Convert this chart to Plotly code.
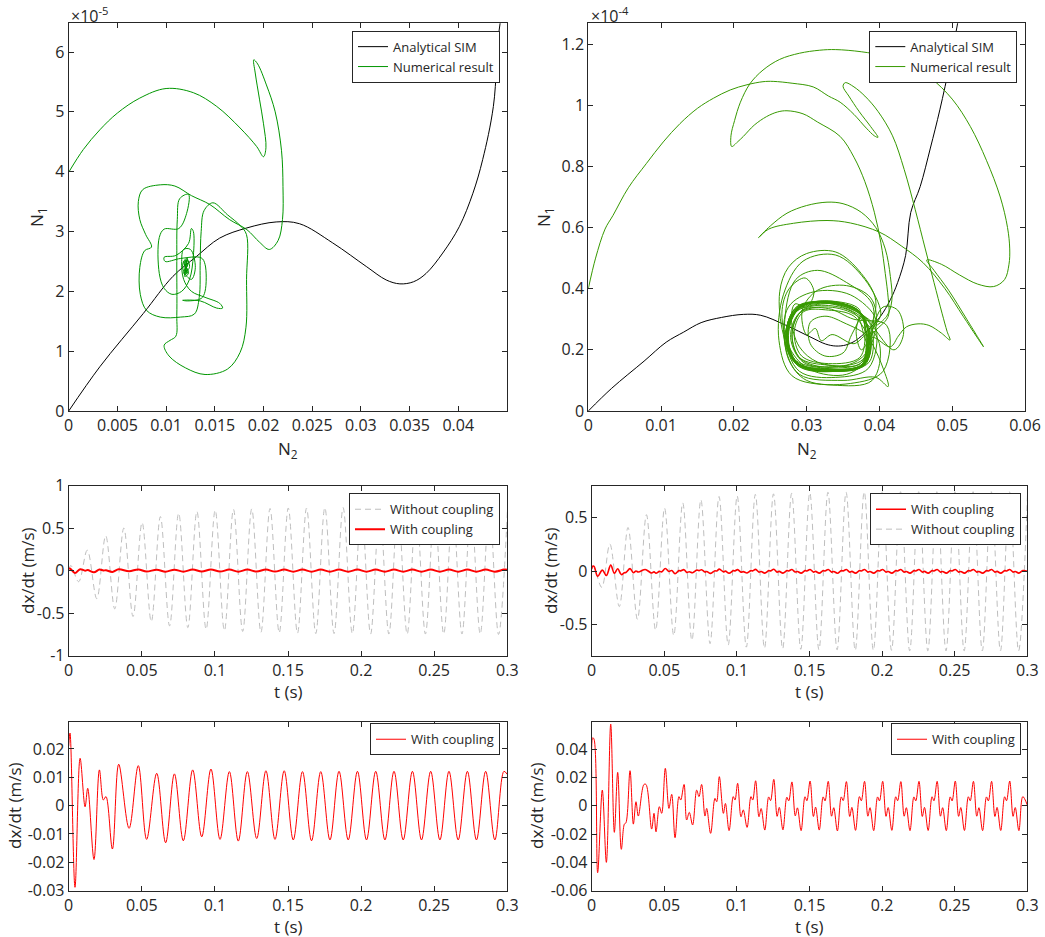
import plotly.graph_objects as go

FONT = "Open Sans"
TXT = "#262626"
W, H = 1045, 937

# ---------------- data ----------------
# Analytical SIM: N2 (x1e-3), N1 (x1e-5)
sim_n2 = [0, 3.2, 7.66, 10.7, 13.1, 15.5, 18.3, 21.3, 23.7, 27.1, 30.6, 32.6, 34.0, 35.4,
          36.7, 38.4, 40.1, 41.5, 42.5, 43.6, 44.3, 45.6, 47.0, 48.3, 49.7, 50.75]
sim_n1 = [0, 0.74, 1.63, 2.25, 2.58, 2.89, 3.06, 3.16, 3.13, 2.81, 2.41, 2.19, 2.125, 2.16,
          2.30, 2.64, 3.08, 3.64, 4.2, 5.09, 6.49, 7.34, 8.6, 9.85, 11.38, 12.69]

# Numerical result, left panel: (N2 x1e-3, N1 x1e-5)
num_left = [
    (0.0, 3.99), (1.5, 4.37), (3.2, 4.70), (5.0, 4.98), (7.3, 5.23), (10.0, 5.39), (12.8, 5.32),
    (15.2, 5.09), (17.6, 4.73), (19.3, 4.42), (20.0, 4.25), (20.25, 4.40), (20.0, 4.8), (19.6, 5.2),
    (19.15, 5.65), (19.0, 5.87), (19.4, 5.80), (20.3, 5.45), (21.2, 5.0), (21.85, 4.35), (22.0, 3.75),
    (21.95, 3.2), (21.5, 2.85), (20.6, 2.70), (19.6, 2.82), (18.3, 3.03), (16.5, 3.2), (14.5, 3.45),
    (12.6, 3.6), (10.9, 3.76), (9.4, 3.78), (7.6, 3.7), (7.15, 3.5), (7.3, 3.2), (7.9, 2.95),
    (8.5, 2.74), (7.8, 2.68), (7.3, 2.4), (7.35, 1.95), (8.0, 1.68), (9.4, 1.57), (11.5, 1.57),
    (12.9, 1.62), (13.4, 1.9), (13.5, 2.5), (13.6, 3.0), (13.9, 3.35), (14.8, 3.48), (16.3, 3.28),
    (17.6, 3.1), (18.25, 2.95), (18.26, 2.2), (18.2, 1.4), (17.6, 0.98), (16.3, 0.7), (14.0, 0.61),
    (12.0, 0.72), (10.3, 0.92), (9.8, 1.1), (10.4, 1.18), (11.0, 1.25), (11.1, 1.6), (11.1, 2.5),
    (11.15, 3.2), (11.4, 3.55), (12.3, 3.62), (12.1, 3.3), (11.3, 3.05), (9.8, 3.04), (9.3, 2.9),
    (9.3, 2.3), (9.8, 2.05), (10.6, 1.95), (11.6, 2.0), (12.4, 2.2), (12.8, 2.6), (12.8, 3.0),
    (12.6, 3.05), (12.3, 2.8), (11.0, 2.6), (9.8, 2.57), (9.9, 2.5), (11.5, 2.55), (13.6, 2.56),
    (14.0, 2.45), (14.0, 2.0), (13.6, 1.88), (12.2, 1.84), (11.7, 1.85), (13.5, 1.84), (15.2, 1.72),
    (15.8, 1.72), (15.5, 1.80), (14.0, 1.9), (12.6, 2.0), (11.8, 2.2), (11.6, 2.5), (11.8, 2.7),
    (12.5, 2.7), (13.0, 2.4), (12.6, 2.2), (11.9, 2.3), (11.7, 2.45), (12.1, 2.55), (12.4, 2.4),
    (11.8, 2.3), (12.3, 2.5), (11.8, 2.5), (12.3, 2.3), (11.9, 2.25), (12.2, 2.55), (11.85, 2.45),
    (12.25, 2.35), (12.0, 2.28), (12.1, 2.52), (11.9, 2.35), (12.2, 2.45), (11.95, 2.5), (12.15, 2.3),
    (12.0, 2.4),
]

# Numerical result, right panel: (N2 x1e-3, N1 x1e-5)
num_right = [
    # first arc and hook
    (0.0, 4.0), (1.0, 5.0), (2.3, 5.95), (3.4, 6.4), (5.5, 7.3), (8.0, 8.1), (10.3, 8.8), (12.6, 9.4),
    (15.0, 9.9), (17.2, 10.23), (19.5, 10.5), (21.8, 10.67), (24.0, 10.77), (25.4, 10.78), (28.0, 10.72),
    (30.9, 10.6), (33.0, 10.3), (34.6, 10.1), (36.5, 9.7), (38.2, 9.25), (39.3, 9.0), (39.8, 8.95),
    (38.8, 9.3), (37.2, 9.8), (35.8, 10.3), (35.0, 10.62), (35.3, 10.74), (36.5, 10.6), (38.0, 10.3),
    (39.8, 9.8), (41.8, 9.0), (43.4, 7.9), (44.9, 6.6), (46.3, 5.3), (47.5, 4.2), (48.6, 3.2),
    (49.3, 2.6), (49.7, 2.32), (48.5, 2.55), (46.8, 2.8), (45.3, 2.85), (43.7, 2.75), (42.6, 2.45),
    (41.5, 2.1),
    # cluster loops
    (39.0, 2.4), (38.0, 1.55), (33.5, 1.3), (28.8, 1.55), (27.4, 2.45), (28.9, 3.35), (33.0, 3.6), (37.5, 3.2),
    (38.6, 2.3), (37.6, 1.5), (33.0, 1.35), (28.5, 1.6), (27.2, 2.55), (28.6, 3.4), (32.5, 3.55), (37.0, 3.3),
    (38.3, 2.2), (37.3, 1.45), (32.5, 1.4), (28.3, 1.7), (27.5, 2.7), (29.2, 3.45), (33.5, 3.5), (37.6, 3.05),
    (38.8, 2.5), (38.2, 1.6), (34.0, 1.3), (29.0, 1.45), (27.0, 2.3), (28.3, 3.2), (32.0, 3.5), (36.8, 3.35),
    (38.5, 2.6), (37.8, 1.7), (33.5, 1.45), (29.5, 1.6), (27.8, 2.4), (29.0, 3.2), (33.0, 3.4), (37.0, 3.1),
    (40.0, 2.2), (39.0, 1.0), (33.5, 0.85), (28.0, 1.15), (26.2, 2.3), (26.8, 3.8), (29.5, 4.9), (34.0, 5.1),
    (38.0, 4.3), (40.2, 3.2),
    # exit and middle arc
    (39.5, 2.8), (41.0, 3.1), (41.7, 3.6), (41.5, 4.4), (40.8, 5.3), (39.5, 6.0), (37.5, 6.5), (35.0, 6.78),
    (32.8, 6.83), (30.0, 6.72), (27.3, 6.47), (25.0, 6.05), (23.4, 5.67), (24.8, 5.95), (28.2, 6.14),
    (32.8, 6.23), (36.0, 6.15), (40.0, 5.85), (43.0, 5.4), (46.0, 4.85), (49.0, 4.0), (51.5, 3.1),
    (53.3, 2.45), (54.3, 2.1), (52.0, 3.0), (49.5, 3.95), (47.5, 4.6), (46.5, 4.94), (48.5, 4.8),
    (51.0, 4.45), (53.5, 4.15), (55.7, 4.07), (57.2, 4.3), (57.8, 4.8), (57.9, 5.3),
    # outer arc
    (57.6, 6.0), (56.6, 7.0), (54.7, 8.2), (52.5, 9.3), (50.0, 10.2), (47.0, 10.9), (44.0, 11.35),
    (41.0, 11.6), (37.5, 11.75), (34.0, 11.82), (31.8, 11.8), (29.0, 11.7), (26.3, 11.5), (24.0, 11.15),
    (22.2, 10.7), (20.9, 10.1), (20.1, 9.5), (19.6, 9.0), (19.7, 8.65),
    # inner arc back into cluster
    (20.5, 8.8), (21.3, 8.98), (22.8, 9.35), (24.5, 9.63), (26.0, 9.78), (27.3, 9.82), (29.5, 9.72),
    (31.5, 9.45), (34.6, 8.98), (36.5, 8.3), (38.0, 7.5), (39.3, 6.5), (40.2, 5.5), (40.8, 4.5),
    (41.2, 3.7), (41.3, 3.2), (41.0, 3.0),
    # more cluster loops
    (38.7, 2.4), (37.9, 1.5), (33.2, 1.33), (28.6, 1.55), (27.3, 2.5), (28.8, 3.38), (32.8, 3.57), (37.2, 3.25),
    (38.2, 2.3), (37.4, 1.55), (33.0, 1.5), (29.0, 1.75), (28.0, 2.6), (29.5, 3.3), (33.0, 3.35), (36.5, 3.0),
    (41.0, 2.8), (40.5, 1.3), (36.0, 0.9), (30.0, 1.0), (27.5, 1.7), (27.0, 3.0), (28.5, 4.3), (31.5, 4.6),
    (35.5, 4.2), (39.0, 3.5),
    (38.9, 2.45), (38.0, 1.5), (33.4, 1.3), (28.7, 1.5), (27.1, 2.4), (28.5, 3.35), (32.7, 3.6), (37.3, 3.3),
    (36.0, 2.4), (35.0, 1.9), (32.5, 1.8), (30.5, 2.2), (30.5, 2.9), (32.5, 3.1), (35.0, 2.9),
    (38.6, 2.35), (37.7, 1.5), (33.1, 1.38), (28.6, 1.6), (27.3, 2.5), (28.8, 3.35), (32.8, 3.55), (37.2, 3.2),
    (39.5, 2.7), (38.5, 1.4), (34.0, 1.1), (29.0, 1.3), (26.8, 2.5), (26.3, 3.9), (27.5, 4.7), (30.0, 5.15),
    (34.0, 5.2), (37.5, 4.5), (39.5, 3.6),
    (38.4, 2.4), (37.5, 1.45), (32.8, 1.33), (28.4, 1.62), (27.2, 2.6), (28.7, 3.42), (32.6, 3.58), (37.0, 3.28),
    (38.8, 2.3), (38.0, 1.55), (33.6, 1.35), (29.0, 1.5), (27.5, 2.35), (28.8, 3.3), (33.0, 3.52), (37.4, 3.15),
    (38.0, 2.6), (37.3, 1.75), (33.0, 1.55), (29.3, 1.8), (28.3, 2.6), (29.6, 3.25), (33.0, 3.3), (36.5, 3.1),
    (39.0, 2.2), (40.5, 1.4), (41.2, 0.8), (39.5, 1.1), (35.0, 1.0), (29.0, 1.2), (27.0, 2.2), (27.5, 3.4),
    (31.0, 3.9), (36.0, 3.8), (39.5, 3.0),
    (38.6, 2.45), (37.7, 1.5), (33.0, 1.35), (28.5, 1.58), (27.2, 2.5), (28.7, 3.37), (32.8, 3.56), (37.2, 3.23),
    (38.5, 2.4), (37.5, 2.0), (36.8, 2.6), (37.5, 3.1), (38.8, 2.8), (38.6, 1.6), (34.0, 1.3), (29.0, 1.5),
    (27.4, 2.4), (28.9, 3.35), (33.0, 3.55), (37.4, 3.2),
    (42.0, 2.0), (43.3, 2.5), (42.5, 3.3), (40.5, 3.4), (38.7, 2.35), (37.8, 1.5), (33.2, 1.3), (28.7, 1.55),
    (27.3, 2.45), (28.8, 3.35), (32.9, 3.58), (37.3, 3.25), (38.4, 2.6), (37.6, 1.6), (33.2, 1.42),
    (29.2, 1.7), (28.0, 2.5), (29.4, 3.3), (33.0, 3.45), (36.8, 3.15), (37.9, 2.45),
    (38.6, 1.8), (35.5, 1.2), (30.5, 1.35), (27.8, 2.0), (26.6, 3.2), (27.6, 4.0), (29.8, 4.35),
    (31.0, 3.9), (30.0, 3.4), (28.4, 3.5), (27.9, 3.0), (29.0, 2.1), (31.5, 1.6), (35.5, 1.5), (38.2, 1.9),
    (39.6, 2.9), (38.8, 3.7), (35.5, 4.1), (31.5, 3.95), (29.4, 3.3), (30.0, 2.5), (31.2, 2.7), (32.0, 2.3),
    (33.5, 2.5), (36.5, 2.2), (38.3, 2.5), (37.7, 1.55), (33.3, 1.36), (28.7, 1.58), (27.3, 2.5),
    (28.8, 3.36), (32.8, 3.56), (37.3, 3.22), (38.6, 2.4),
]

# Time-series extrema: (t [s], dx/dt [m/s])
gray_left = [
    (0.0, 0.02), (0.0015, 0.06), (0.0068, -0.13), (0.0127, 0.24), (0.0192, -0.33), (0.0253, 0.41),
    (0.0315, -0.45), (0.0377, 0.50), (0.0440, -0.54), (0.0502, 0.565), (0.0565, -0.60), (0.0627, 0.635),
    (0.0690, -0.65), (0.0752, 0.675), (0.0815, -0.67), (0.0877, 0.695), (0.0940, -0.69), (0.1002, 0.71),
    (0.1065, -0.705), (0.1127, 0.72), (0.1190, -0.715), (0.1252, 0.725), (0.1315, -0.725), (0.1377, 0.73),
    (0.1440, -0.73), (0.1502, 0.735), (0.1565, -0.735), (0.1627, 0.735), (0.1690, -0.74), (0.1752, 0.74),
    (0.1815, -0.74), (0.1877, 0.74), (0.1940, -0.74), (0.2002, 0.74), (0.2065, -0.745), (0.2127, 0.74),
    (0.2190, -0.745), (0.2252, 0.745), (0.2315, -0.745), (0.2377, 0.745), (0.2440, -0.745), (0.2502, 0.745),
    (0.2565, -0.745), (0.2627, 0.745), (0.2690, -0.745), (0.2752, 0.745), (0.2815, -0.745), (0.2877, 0.745),
    (0.2940, -0.75), (0.3002, 0.745),
]
gray_right = [
    (0.0, 0.035), (0.0012, 0.05), (0.0069, -0.15), (0.0125, 0.255), (0.0190, -0.33), (0.0250, 0.41),
    (0.0315, -0.45), (0.0377, 0.53), (0.0440, -0.55), (0.0502, 0.59), (0.0565, -0.60), (0.0627, 0.64),
    (0.0690, -0.646), (0.0752, 0.67), (0.0815, -0.677), (0.0877, 0.70), (0.0940, -0.69), (0.1002, 0.705),
    (0.1065, -0.71), (0.1127, 0.72), (0.1190, -0.72), (0.1252, 0.725), (0.1315, -0.725), (0.1377, 0.73),
    (0.1440, -0.73), (0.1502, 0.735), (0.1565, -0.735), (0.1627, 0.74), (0.1690, -0.735), (0.1752, 0.74),
    (0.1815, -0.74), (0.1877, 0.745), (0.1940, -0.74), (0.2002, 0.745), (0.2065, -0.74), (0.2127, 0.745),
    (0.2190, -0.745), (0.2252, 0.745), (0.2315, -0.745), (0.2377, 0.745), (0.2440, -0.745), (0.2502, 0.745),
    (0.2565, -0.745), (0.2627, 0.745), (0.2690, -0.745), (0.2752, 0.745), (0.2815, -0.745), (0.2877, 0.745),
    (0.2940, -0.745), (0.3002, 0.745),
]
red_left = [
    (0.0, 0.021), (0.0009, 0.0256), (0.0043, -0.0288), (0.0078, 0.0167), (0.0112, -0.0004), (0.0130, 0.0061),
    (0.0173, -0.0190), (0.0210, 0.0126), (0.0237, 0.0020), (0.0255, 0.0032), (0.0299, -0.0153),
    (0.0342, 0.0146), (0.0413, -0.0080), (0.0476, 0.0141), (0.0533, -0.0119), (0.0602, 0.0114),
    (0.0663, -0.0131), (0.0723, 0.0112), (0.0784, -0.0124), (0.0848, 0.0126), (0.0910, -0.0110),
    (0.0973, 0.0129), (0.1035, -0.0119), (0.1099, 0.0120), (0.1160, -0.0125), (0.1222, 0.0120),
    (0.1286, -0.0116), (0.1349, 0.0123), (0.1411, -0.0119), (0.1474, 0.0123), (0.1536, -0.0121),
    (0.1599, 0.0120), (0.1661, -0.0124), (0.1724, 0.0120), (0.1787, -0.0121), (0.1849, 0.0121),
    (0.1912, -0.0121), (0.1975, 0.0121), (0.2037, -0.0121), (0.2100, 0.0121), (0.2163, -0.0121),
    (0.2225, 0.0121), (0.2288, -0.0121), (0.2351, 0.0121), (0.2413, -0.0121), (0.2476, 0.0121),
    (0.2539, -0.0121), (0.2601, 0.0121), (0.2664, -0.0121), (0.2727, 0.0121), (0.2789, -0.0121),
    (0.2852, 0.0121), (0.2915, -0.0121), (0.2977, 0.0121), (0.3000, 0.0110),
]
red_right = [
    (0.0, 0.020), (0.0007, 0.048), (0.0016, 0.047), (0.0041, -0.0473), (0.0073, 0.011), (0.0101, -0.040),
    (0.0131, 0.0576), (0.0156, -0.0188), (0.0179, 0.0235), (0.0204, -0.0308), (0.0225, -0.013),
    (0.0236, -0.012), (0.0264, 0.0247), (0.0287, -0.013), (0.0305, 0.0028), (0.0321, -0.0073),
    (0.0360, 0.015), (0.0374, 0.015), (0.0413, -0.0165), (0.0429, -0.0054), (0.0443, -0.0184),
    (0.0466, -0.0007), (0.0482, -0.0054), (0.0507, 0.0264), (0.0532, -0.0019), (0.0551, 0.008),
    (0.0574, -0.0226), (0.0601, 0.0064), (0.0613, 0.004), (0.0636, 0.015), (0.0654, -0.0101),
    (0.0672, -0.0047), (0.0695, -0.0136), (0.0723, 0.011), (0.0739, 0.0064), (0.0757, 0.015),
    (0.0780, -0.0073), (0.0792, -0.0019), (0.0819, -0.0195), (0.0849, 0.0052), (0.0861, 0.0028),
    (0.0879, 0.0205), (0.0907, -0.0054), (0.0921, 0.0016), (0.0946, -0.0176), (0.0975, 0.0064),
    (0.0987, 0.004), (0.1005, 0.0158), (0.1028, -0.0078), (0.1044, -0.003), (0.1070, -0.0153),
    (0.1097, 0.0064), (0.1109, 0.004),
    (0.1129, 0.0176), (0.1152, -0.0078), (0.1167, -0.0020), (0.1192, -0.0172), (0.1219, 0.0062), (0.1232, 0.0036),
    (0.1254, 0.0186), (0.1277, -0.0075), (0.1292, -0.0012), (0.1317, -0.0170), (0.1344, 0.0060), (0.1357, 0.0034),
    (0.1379, 0.0168), (0.1402, -0.0072), (0.1417, -0.0015), (0.1442, -0.0176), (0.1469, 0.0063), (0.1482, 0.0035),
    (0.1504, 0.0174), (0.1527, -0.0076), (0.1542, -0.0010), (0.1567, -0.0172), (0.1594, 0.0062), (0.1607, 0.0034),
    (0.1629, 0.0172), (0.1652, -0.0074), (0.1667, -0.0014), (0.1692, -0.0178), (0.1719, 0.0062), (0.1732, 0.0036),
    (0.1754, 0.0170), (0.1777, -0.0076), (0.1792, -0.0012), (0.1817, -0.0174), (0.1844, 0.0064), (0.1857, 0.0035),
    (0.1879, 0.0172), (0.1902, -0.0074), (0.1917, -0.0014), (0.1942, -0.0176), (0.1969, 0.0062), (0.1982, 0.0034),
    (0.2004, 0.0172), (0.2027, -0.0075), (0.2042, -0.0013), (0.2067, -0.0174), (0.2094, 0.0063), (0.2107, 0.0035),
    (0.2129, 0.0170), (0.2152, -0.0074), (0.2167, -0.0014), (0.2192, -0.0176), (0.2219, 0.0062), (0.2232, 0.0034),
    (0.2254, 0.0172), (0.2277, -0.0076), (0.2292, -0.0012), (0.2317, -0.0175), (0.2344, 0.0063), (0.2357, 0.0035),
    (0.2379, 0.0172), (0.2402, -0.0074), (0.2417, -0.0014), (0.2442, -0.0176), (0.2469, 0.0062), (0.2482, 0.0034),
    (0.2504, 0.0174), (0.2527, -0.0075), (0.2542, -0.0013), (0.2567, -0.0175), (0.2594, 0.0063), (0.2607, 0.0035),
    (0.2629, 0.0172), (0.2652, -0.0074), (0.2667, -0.0014), (0.2692, -0.0176), (0.2719, 0.0062), (0.2732, 0.0034),
    (0.2754, 0.0172), (0.2777, -0.0076), (0.2792, -0.0012), (0.2817, -0.0175), (0.2844, 0.0063), (0.2857, 0.0035),
    (0.2879, 0.0174), (0.2902, -0.0075), (0.2917, -0.0013), (0.2942, -0.0176), (0.2969, 0.0064), (0.3000, 0.0005),
]

# tick labels
tl_xticks = [0, 0.005, 0.01, 0.015, 0.02, 0.025, 0.03, 0.035, 0.04]
tl_xlabels = ["0", "0.005", "0.01", "0.015", "0.02", "0.025", "0.03", "0.035", "0.04"]
tr_xticks = [0, 0.01, 0.02, 0.03, 0.04, 0.05, 0.06]
tr_xlabels = ["0", "0.01", "0.02", "0.03", "0.04", "0.05", "0.06"]
t_ticks = [0, 0.05, 0.1, 0.15, 0.2, 0.25, 0.3]
t_labels = ["0", "0.05", "0.1", "0.15", "0.2", "0.25", "0.3"]
ml_yticks = [-1, -0.5, 0, 0.5, 1]
ml_ylabels = ["-1", "-0.5", "0", "0.5", "1"]
mr_yticks = [-0.5, 0, 0.5]
mr_ylabels = ["-0.5", "0", "0.5"]
bl_yticks = [-0.03, -0.02, -0.01, 0, 0.01, 0.02]
bl_ylabels = ["-0.03", "-0.02", "-0.01", "0", "0.01", "0.02"]
br_yticks = [-0.06, -0.04, -0.02, 0, 0.02, 0.04]
br_ylabels = ["-0.06", "-0.04", "-0.02", "0", "0.02", "0.04"]

# ---------------- figure ----------------
GREEN_L = "rgb(0,150,0)"
GREEN_R = "rgb(55,153,0)"
RED = "rgb(255,0,0)"
GRAY = "rgb(190,190,190)"


def split(pairs):
    return [p[0] for p in pairs], [p[1] for p in pairs]


fig = go.Figure()

# top-left
fig.add_trace(go.Scatter(x=[v / 1000 for v in sim_n2], y=sim_n1, mode="lines", name="Analytical SIM",
                         line=dict(color="black", width=1, shape="spline"), xaxis="x", yaxis="y",
                         legend="legend"))
lx, ly = split(num_left)
fig.add_trace(go.Scatter(x=[v / 1000 for v in lx], y=ly, mode="lines", name="Numerical result",
                         line=dict(color=GREEN_L, width=1, shape="spline"), xaxis="x", yaxis="y",
                         legend="legend"))
# top-right
fig.add_trace(go.Scatter(x=[v / 1000 for v in sim_n2], y=[v / 10 for v in sim_n1], mode="lines",
                         name="Analytical SIM", line=dict(color="black", width=1, shape="spline"),
                         xaxis="x2", yaxis="y2", legend="legend2"))
rx, ry = split(num_right)
fig.add_trace(go.Scatter(x=[v / 1000 for v in rx], y=[v / 10 for v in ry], mode="lines",
                         name="Numerical result", line=dict(color=GREEN_R, width=1, shape="spline"),
                         xaxis="x2", yaxis="y2", legend="legend2"))
# middle-left
gx, gy = split(gray_left)
fig.add_trace(go.Scatter(x=gx, y=gy, mode="lines", name="Without coupling",
                         line=dict(color=GRAY, width=1, dash="6px,4px", shape="spline"),
                         xaxis="x3", yaxis="y3", legend="legend3"))
rlx, rly = split(red_left)
fig.add_trace(go.Scatter(x=rlx, y=rly, mode="lines", name="With coupling",
                         line=dict(color=RED, width=2, shape="spline"), xaxis="x3", yaxis="y3",
                         legend="legend3"))
# middle-right
gx2, gy2 = split(gray_right)
fig.add_trace(go.Scatter(x=gx2, y=gy2, mode="lines", name="Without coupling",
                         line=dict(color=GRAY, width=1, dash="6px,4px", shape="spline"),
                         xaxis="x4", yaxis="y4", legend="legend4"))
rrx, rry = split(red_right)
fig.add_trace(go.Scatter(x=rrx, y=rry, mode="lines", name="With coupling",
                         line=dict(color=RED, width=1.6, shape="spline"), xaxis="x4", yaxis="y4",
                         legend="legend4"))
# bottom
fig.add_trace(go.Scatter(x=rlx, y=rly, mode="lines", name="With coupling",
                         line=dict(color=RED, width=1, shape="spline"), xaxis="x5", yaxis="y5",
                         legend="legend5"))
fig.add_trace(go.Scatter(x=rrx, y=rry, mode="lines", name="With coupling",
                         line=dict(color=RED, width=1, shape="spline"), xaxis="x6", yaxis="y6",
                         legend="legend6"))


def ax(domain, rng, anchor, tickvals=None, ticktext=None, dtick=None):
    d = dict(domain=domain, range=rng, anchor=anchor, showline=True, linecolor=TXT, linewidth=1,
             mirror="ticks", ticks="inside", ticklen=5, tickwidth=1, tickcolor=TXT, showgrid=False,
             zeroline=False, automargin=False, fixedrange=True,
             tickfont=dict(family=FONT, size=16, color=TXT))
    if tickvals is not None:
        d["tickmode"] = "array"
        d["tickvals"] = tickvals
        d["ticktext"] = ticktext
    elif dtick is not None:
        d["dtick"] = dtick
        d["tick0"] = 0
    return d


def px_x(p):
    return p / W


def px_y(p):
    return 1 - p / H


dom_tl_x = [px_x(68.7), px_x(507.0)]
dom_tr_x = [px_x(588.3), px_x(1025.0)]
dom_top_y = [px_y(411.0), px_y(23.3)]
dom_ml_x = [px_x(68.7), px_x(507.3)]
dom_mr_x = [px_x(591.7), px_x(1027.3)]
dom_mid_y = [px_y(655.7), px_y(485.5)]
dom_bot_y = [px_y(890.7), px_y(721.7)]

fig.update_layout(
    width=W, height=H, margin=dict(l=0, r=0, t=0, b=0),
    paper_bgcolor="white", plot_bgcolor="white",
    font=dict(family=FONT, color=TXT),
    xaxis=ax(dom_tl_x, [0, 0.045], "y", tl_xticks, tl_xlabels),
    yaxis=ax(dom_top_y, [0, 6.48], "x", dtick=1),
    xaxis2=ax(dom_tr_x, [0, 0.06], "y2", tr_xticks, tr_xlabels),
    yaxis2=ax(dom_top_y, [0, 1.268], "x2", dtick=0.2),
    xaxis3=ax(dom_ml_x, [0, 0.3], "y3", t_ticks, t_labels),
    yaxis3=ax(dom_mid_y, [-1, 1], "x3", ml_yticks, ml_ylabels),
    xaxis4=ax(dom_mr_x, [0, 0.3], "y4", t_ticks, t_labels),
    yaxis4=ax(dom_mid_y, [-0.79, 0.803], "x4", mr_yticks, mr_ylabels),
    xaxis5=ax(dom_ml_x, [0, 0.3], "y5", t_ticks, t_labels),
    yaxis5=ax(dom_bot_y, [-0.03, 0.0296], "x5", bl_yticks, bl_ylabels),
    xaxis6=ax(dom_mr_x, [0, 0.3], "y6", t_ticks, t_labels),
    yaxis6=ax(dom_bot_y, [-0.06, 0.0593], "x6", br_yticks, br_ylabels),
)

leg_common = dict(xanchor="right", yanchor="top", bgcolor="white", bordercolor=TXT, borderwidth=1,
                  font=dict(family=FONT, size=13, color=TXT), tracegroupgap=0, itemwidth=30)
fig.update_layout(
    legend=dict(x=px_x(500), y=px_y(30.7), **leg_common),
    legend2=dict(x=px_x(1017.3), y=px_y(30.7), **leg_common),
    legend3=dict(x=px_x(500), y=px_y(493.3), **leg_common),
    legend4=dict(x=px_x(1021), y=px_y(493.3), traceorder="reversed", **leg_common),
    legend5=dict(x=px_x(500), y=px_y(723.3), **leg_common),
    legend6=dict(x=px_x(1021), y=px_y(723.3), **leg_common),
)

ann = []
tf = dict(family=FONT, size=17, color=TXT)


def title(text, x, y, angle=0):
    ann.append(dict(text=text, x=px_x(x), y=px_y(y), xref="paper", yref="paper", showarrow=False,
                    xanchor="center", yanchor="middle", textangle=angle, font=tf))


title("N<sub>2</sub>", 288, 450)
title("N<sub>2</sub>", 807, 450)
title("N<sub>1</sub>", 38, 217, -90)
title("N<sub>1</sub>", 545, 217, -90)
title("t (s)", 288, 691)
title("t (s)", 809, 691)
title("t (s)", 288, 926)
title("t (s)", 809, 926)
title("dx/dt (m/s)", 27, 571, -90)
title("dx/dt (m/s)", 550, 571, -90)
title("dx/dt (m/s)", 14, 806, -90)
title("dx/dt (m/s)", 536, 806, -90)

for xpx, txt in [(69, "\u00d710<sup>-5</sup>"), (589, "\u00d710<sup>-4</sup>")]:
    ann.append(dict(text=txt, x=px_x(xpx), y=px_y(1), xref="paper", yref="paper", showarrow=False,
                    xanchor="left", yanchor="top", font=dict(family=FONT, size=16, color=TXT)))

fig.update_layout(annotations=ann)

fig.write_html("out.html")
